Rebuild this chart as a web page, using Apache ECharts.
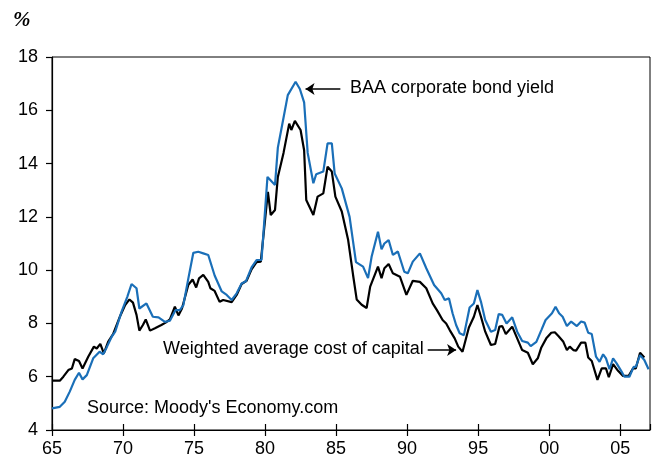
<!DOCTYPE html>
<html>
<head>
<meta charset="utf-8">
<script src="https://cdn.jsdelivr.net/npm/echarts@6/dist/echarts.min.js"></script>
<style>
  html, body { margin: 0; padding: 0; background: #fff; }
  #chart { width: 657px; height: 468px; }
</style>
</head>
<body>
<div id="chart"></div>
<script>
// ---- Data ----
const baaYears = [1965.0,1965.55,1965.9,1966.25,1966.6,1966.9,1967.15,1967.45,1967.9,1968.35,1968.6,1968.85,1969.2,1969.45,1969.9,1970.3,1970.6,1970.95,1971.15,1971.65,1972.1,1972.5,1972.95,1973.3,1973.7,1974.0,1974.25,1974.6,1974.95,1975.3,1975.65,1976.0,1976.45,1976.95,1977.3,1977.65,1978.0,1978.35,1978.65,1979.05,1979.4,1979.75,1980.17,1980.7,1980.9,1981.15,1981.6,1982.15,1982.45,1982.75,1983.0,1983.4,1983.6,1984.1,1984.4,1984.7,1984.9,1985.4,1985.95,1986.4,1986.9,1987.25,1987.5,1987.95,1988.2,1988.4,1988.7,1989.0,1989.35,1989.8,1990.05,1990.4,1990.9,1991.35,1991.9,1992.4,1992.65,1992.95,1993.2,1993.45,1993.7,1994.0,1994.4,1994.7,1994.95,1995.2,1995.5,1995.9,1996.2,1996.45,1996.7,1997.0,1997.4,1997.75,1998.1,1998.5,1998.7,1999.1,1999.45,1999.75,2000.2,2000.45,2000.7,2000.95,2001.25,2001.55,2001.95,2002.25,2002.5,2002.75,2003.0,2003.3,2003.55,2003.8,2004.0,2004.25,2004.5,2004.75,2005.1,2005.3,2005.65,2005.95,2006.1,2006.4,2006.7,2007.0];
const baaYield = [4.81,4.87,5.06,5.44,5.88,6.15,5.9,6.06,6.69,6.94,6.84,7.1,7.5,7.69,8.44,9.0,9.48,9.32,8.56,8.75,8.25,8.23,8.06,8.1,8.5,8.5,8.69,9.69,10.65,10.69,10.63,10.57,9.8,9.2,9.07,8.88,9.13,9.5,9.58,10.1,10.38,10.38,13.5,13.2,14.6,15.3,16.57,17.07,16.8,16.3,14.4,13.26,13.6,13.7,14.76,14.76,13.63,13.07,12.0,10.3,10.13,9.7,10.5,11.44,10.78,11.0,11.13,10.57,10.7,9.94,9.88,10.32,10.63,10.07,9.44,9.13,8.88,8.94,8.38,7.94,7.63,7.56,8.6,8.75,9.25,8.81,8.13,7.69,7.75,8.35,8.32,8.0,8.23,7.69,7.34,7.28,7.15,7.31,7.75,8.13,8.38,8.63,8.38,8.25,7.9,8.07,7.9,8.07,8.03,7.65,7.6,6.75,6.56,6.84,6.69,6.28,6.69,6.5,6.19,6.0,6.0,6.37,6.37,6.81,6.63,6.28];

const waccYears = [1965.0,1965.55,1965.8,1966.15,1966.4,1966.6,1966.9,1967.15,1967.55,1967.95,1968.15,1968.4,1968.65,1968.95,1969.3,1969.8,1970.15,1970.45,1970.7,1970.95,1971.15,1971.4,1971.6,1971.9,1972.25,1972.7,1973.0,1973.3,1973.65,1973.9,1974.15,1974.6,1974.9,1975.15,1975.35,1975.65,1976.0,1976.15,1976.45,1976.8,1977.05,1977.65,1978.0,1978.35,1978.7,1979.05,1979.4,1979.7,1980.2,1980.4,1980.7,1980.9,1981.3,1981.7,1981.85,1982.1,1982.5,1982.75,1982.9,1983.4,1983.7,1984.1,1984.4,1984.7,1984.95,1985.4,1985.85,1986.2,1986.45,1986.8,1987.15,1987.4,1987.95,1988.2,1988.4,1988.7,1989.0,1989.5,1989.95,1990.4,1990.9,1991.35,1991.8,1992.1,1992.5,1992.75,1993.0,1993.35,1993.6,1993.9,1994.35,1994.7,1994.95,1995.2,1995.5,1995.9,1996.2,1996.5,1996.7,1996.95,1997.4,1997.75,1998.1,1998.5,1998.85,1999.2,1999.45,1999.8,2000.15,2000.4,2000.65,2001.0,2001.25,2001.45,2001.7,2001.9,2002.25,2002.55,2002.75,2003.0,2003.4,2003.7,2004.0,2004.2,2004.5,2004.85,2005.2,2005.6,2005.9,2006.1,2006.4,2006.7];
const waccRate = [5.85,5.85,6.0,6.25,6.31,6.66,6.59,6.31,6.75,7.13,7.06,7.23,6.88,7.31,7.6,8.28,8.69,8.9,8.78,8.32,7.73,7.94,8.15,7.73,7.82,7.94,8.03,8.15,8.63,8.3,8.56,9.45,9.65,9.35,9.69,9.82,9.56,9.32,9.22,8.81,8.88,8.8,9.07,9.48,9.6,10.03,10.3,10.32,12.94,12.07,12.26,13.5,14.4,15.5,15.26,15.6,15.26,14.5,12.63,12.07,12.76,12.88,13.88,13.7,12.76,12.2,11.13,9.8,8.9,8.7,8.58,9.38,10.13,9.7,10.07,10.23,9.88,9.75,9.07,9.6,9.56,9.32,8.75,8.5,8.13,8.0,7.75,7.44,7.13,6.94,7.85,8.25,8.69,8.25,7.69,7.19,7.23,7.88,7.9,7.6,7.88,7.44,7.0,6.9,6.47,6.69,7.1,7.44,7.65,7.67,7.53,7.31,7.0,7.13,7.0,6.98,7.28,7.28,6.72,6.59,5.88,6.31,6.31,5.98,6.47,6.22,6.03,6.03,6.31,6.31,6.9,6.72];

const xTickLabels = ['65','70','75','80','85','90','95','00','05'];
const yTickLabels = ['4','6','8','10','12','14','16','18'];

const seriesNames = ['Weighted average cost of capital', 'BAA corporate bond yield'];
const sourceNote = "Source: Moody's Economy.com";

// ---- Chart ----
const FONT = "Arial, 'Liberation Sans', sans-serif";
const chart = echarts.init(document.getElementById('chart'), null, { renderer: 'canvas' });

const toPairs = (xs, ys) => xs.map((x, i) => [x, ys[i]]);

const option = {
  animation: false,
  backgroundColor: '#fff',
  grid: { left: 52, right: 7, top: 57, bottom: 38, show: true, borderColor: '#000', borderWidth: 1 },
  xAxis: [
    {
      type: 'value', min: 1965, max: 2007.1, interval: 5,
      axisLine: { show: true, lineStyle: { color: '#000', width: 1.2 } },
      axisTick: { show: true, length: 6, lineStyle: { color: '#000', width: 1.2 } },
      axisLabel: {
        color: '#000', fontSize: 18, fontFamily: FONT, margin: 10, showMaxLabel: false,
        formatter: v => { const i = Math.round((v - 1965) / 5); return (Math.abs(v - (1965 + 5 * i)) < 1e-6 && xTickLabels[i] !== undefined) ? xTickLabels[i] : ''; }
      },
      splitLine: { show: false }
    },
    {
      type: 'value', min: 1965, max: 2007.1, interval: 5, position: 'bottom',
      axisLine: { show: false },
      axisTick: { show: true, inside: true, length: 6, lineStyle: { color: '#000', width: 1.2 } },
      axisLabel: { show: false },
      splitLine: { show: false }
    }
  ],
  yAxis: {
    type: 'value', min: 4, max: 18, interval: 2,
    axisLine: { show: true, lineStyle: { color: '#000', width: 1.2 } },
    axisTick: { show: true, length: 6, lineStyle: { color: '#000', width: 1.2 } },
    axisLabel: {
      color: '#000', fontSize: 18, fontFamily: FONT, margin: 14,
      formatter: v => { const i = Math.round((v - 4) / 2); return yTickLabels[i] !== undefined ? yTickLabels[i] : ''; }
    },
    splitLine: { show: false }
  },
  series: [
    {
      name: seriesNames[0], type: 'line', showSymbol: false, symbol: 'none',
      data: toPairs(waccYears, waccRate),
      lineStyle: { color: '#000', width: 2.2 }, itemStyle: { color: '#000' },
      markLine: {
        silent: true, symbol: ['none', 'arrow'], symbolSize: 9,
        label: { show: false },
        lineStyle: { color: '#000', width: 1.5, type: 'solid' },
        data: [[{ coord: [1991.45, 7.0] }, { coord: [1993.45, 7.0] }]]
      }
    },
    {
      name: seriesNames[1], type: 'line', showSymbol: false, symbol: 'none',
      data: toPairs(baaYears, baaYield),
      lineStyle: { color: '#1a6fb8', width: 2.2 }, itemStyle: { color: '#1a6fb8' },
      markLine: {
        silent: true, symbol: ['none', 'arrow'], symbolSize: 9,
        label: { show: false },
        lineStyle: { color: '#000', width: 1.5, type: 'solid' },
        data: [[{ coord: [1985.3, 16.8] }, { coord: [1982.85, 16.8] }]]
      }
    }
  ],
  graphic: [
    { type: 'text', left: 13, top: 10, style: { text: '%', fontSize: 21, fontWeight: 'bold', fontStyle: 'italic', fontFamily: "'Liberation Serif', 'DejaVu Serif', serif", fill: '#000' } },
    { type: 'text', left: 350, top: 79, style: { text: seriesNames[1], fontSize: 18, fontFamily: FONT, fill: '#000' } },
    { type: 'text', left: 163, top: 340, style: { text: seriesNames[0], fontSize: 18, fontFamily: FONT, fill: '#000' } },
    { type: 'text', left: 87, top: 399, style: { text: sourceNote, fontSize: 18, fontFamily: FONT, fill: '#000' } }
  ]
};
chart.setOption(option);
</script>
</body>
</html>
